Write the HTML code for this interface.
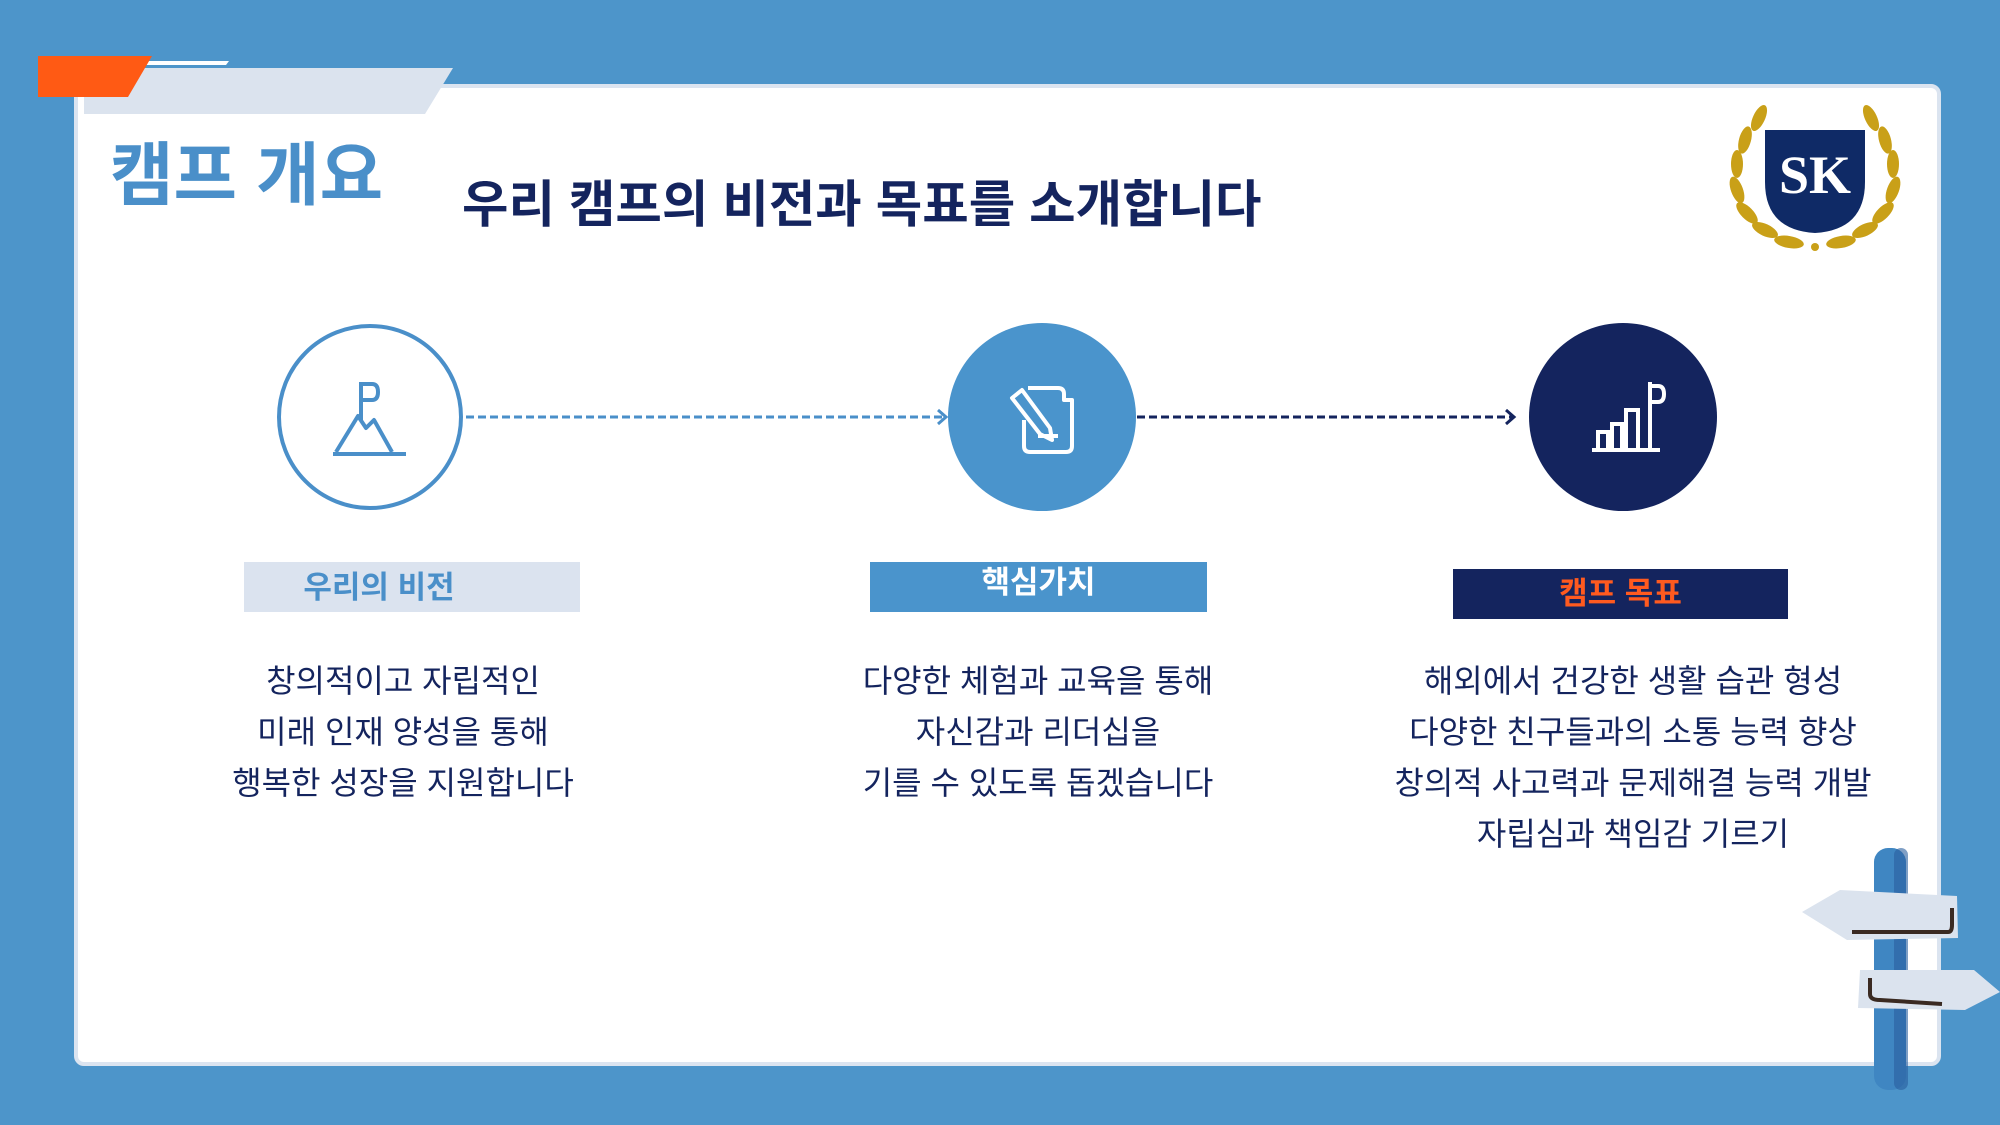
<!DOCTYPE html>
<html><head><meta charset="utf-8"><style>
*{margin:0;padding:0;box-sizing:border-box}
body{width:2000px;height:1125px;background:#4d95ca;position:relative;overflow:hidden;font-family:"Liberation Sans","Noto Sans CJK KR",sans-serif}
.abs{position:absolute}
.card{left:74px;top:84px;width:1867px;height:982px;background:#fff;border:4px solid #dbe4f0;border-radius:10px}
.t{position:absolute;white-space:nowrap;text-align:center}
.body{font-size:32px;color:#14245e;line-height:51px;transform:translateX(-50%)}
</style></head><body>
<div class="abs card"></div>
<svg class="abs" style="left:0;top:0" width="700" height="160">
<polygon points="84,114 84,68 453,68 425,114" fill="#dbe3ee"/>
<polygon points="128,61 229,61 226,65 126,65" fill="#fff"/>
<polygon points="38,56 152,56 128,97 38,97" fill="#ff5a14"/>
</svg>
<div class="t" style="left:110px;top:134px;font-size:69px;font-weight:bold;color:#4a8fc9;line-height:84px">캠프 개요</div>
<div class="t" style="left:462px;top:172px;font-size:50.5px;font-weight:bold;color:#14245e;line-height:66px">우리 캠프의 비전과 목표를 소개합니다</div>

<!-- logo -->
<svg class="abs" style="left:1715px;top:100px" width="200" height="155" viewBox="0 0 200 155">
<g fill="#c9a018">
<ellipse cx="44" cy="18" rx="6" ry="14" transform="rotate(25 44 18)"/>
<ellipse cx="30" cy="40" rx="6" ry="14" transform="rotate(15 30 40)"/>
<ellipse cx="22" cy="64" rx="6" ry="14" transform="rotate(0 22 64)"/>
<ellipse cx="22" cy="90" rx="6" ry="14" transform="rotate(-20 22 90)"/>
<ellipse cx="32" cy="113" rx="6" ry="14" transform="rotate(-45 32 113)"/>
<ellipse cx="50" cy="130" rx="6" ry="14" transform="rotate(-65 50 130)"/>
<ellipse cx="74" cy="142" rx="6" ry="15" transform="rotate(-80 74 142)"/>
<ellipse cx="156" cy="18" rx="6" ry="14" transform="rotate(-25 156 18)"/>
<ellipse cx="170" cy="40" rx="6" ry="14" transform="rotate(-15 170 40)"/>
<ellipse cx="178" cy="64" rx="6" ry="14" transform="rotate(0 178 64)"/>
<ellipse cx="178" cy="90" rx="6" ry="14" transform="rotate(20 178 90)"/>
<ellipse cx="168" cy="113" rx="6" ry="14" transform="rotate(45 168 113)"/>
<ellipse cx="150" cy="130" rx="6" ry="14" transform="rotate(65 150 130)"/>
<ellipse cx="126" cy="142" rx="6" ry="15" transform="rotate(80 126 142)"/>
<circle cx="100" cy="147" r="4"/>
</g>
<path d="M50 30 H150 V82 Q150 130 100 133 Q50 130 50 82 Z" fill="#0f2a66"/>
<text x="100" y="93" text-anchor="middle" font-family="Liberation Serif,serif" font-weight="bold" font-size="54" fill="#fff">SK</text>
</svg>

<!-- circles & arrows -->
<svg class="abs" style="left:0;top:0" width="2000" height="560">
<circle cx="370" cy="417" r="91" fill="#fff" stroke="#4a8fc9" stroke-width="4"/>
<circle cx="1042" cy="417" r="94" fill="#4a94cc"/>
<circle cx="1623" cy="417" r="94" fill="#14245e"/>
<line x1="466" y1="417" x2="944" y2="417" stroke="#4a8fc9" stroke-width="3" stroke-dasharray="8,4"/>
<polyline points="938,410 946,417 938,424" fill="none" stroke="#4a8fc9" stroke-width="3"/>
<line x1="1137" y1="417" x2="1512" y2="417" stroke="#14245e" stroke-width="3" stroke-dasharray="8,4"/>
<polyline points="1506,410 1514,417 1506,424" fill="none" stroke="#14245e" stroke-width="3"/>
<g fill="none" stroke="#4a8fc9" stroke-width="4" stroke-linejoin="round">
<line x1="361" y1="382" x2="361" y2="420"/>
<path d="M361 384 H372 Q378 384 378 392 Q378 400 372 400 H361"/>
<path d="M336 452 L358 416 L366 428 L374 420 L392 452"/>
<line x1="333" y1="454" x2="406" y2="454"/>
</g>
<g fill="none" stroke="#fff" stroke-width="4" stroke-linejoin="round">
<path d="M1028 388 H1058 Q1064 388 1064 394 V400 H1072 V446 Q1072 452 1066 452 H1030 Q1024 452 1024 446 V420"/>
<path d="M1012 398 L1022 390 L1050 428 L1052 440 L1040 434 Z"/>
<line x1="1038" y1="436" x2="1058" y2="436"/>
</g>
<g fill="none" stroke="#fff" stroke-width="4">
<line x1="1592" y1="450" x2="1660" y2="450"/>
<rect x="1598" y="432" width="10" height="18"/>
<rect x="1612" y="424" width="10" height="26"/>
<rect x="1626" y="410" width="12" height="40"/>
<line x1="1650" y1="382" x2="1650" y2="450"/>
<path d="M1650 386 H1658 Q1664 386 1664 394 Q1664 402 1658 402 H1650"/>
</g>
</svg>

<!-- labels -->
<div class="abs" style="left:244px;top:562px;width:336px;height:50px;background:#dbe3ef"></div>
<div class="t" style="left:244px;top:563px;width:270px;line-height:50px;font-size:31px;font-weight:bold;color:#4a8fc9">우리의 비전</div>
<div class="abs" style="left:870px;top:562px;width:337px;height:50px;background:#4a94cc"></div>
<div class="t" style="left:870px;top:562px;width:337px;line-height:42px;font-size:31px;font-weight:bold;color:#fff">핵심가치</div>
<div class="abs" style="left:1453px;top:569px;width:335px;height:50px;background:#14245e"></div>
<div class="t" style="left:1453px;top:569px;width:335px;line-height:50px;font-size:31px;font-weight:bold;color:#ff5a1f">캠프 목표</div>

<div class="t body" style="left:403px;top:656px">창의적이고 자립적인<br>미래 인재 양성을 통해<br>행복한 성장을 지원합니다</div>
<div class="t body" style="left:1038px;top:656px">다양한 체험과 교육을 통해<br>자신감과 리더십을<br>기를 수 있도록 돕겠습니다</div>
<div class="t body" style="left:1633px;top:656px">해외에서 건강한 생활 습관 형성<br>다양한 친구들과의 소통 능력 향상<br>창의적 사고력과 문제해결 능력 개발<br>자립심과 책임감 기르기</div>

<!-- signpost -->
<svg class="abs" style="left:1790px;top:840px" width="210" height="285" viewBox="0 0 210 285">
<rect x="84" y="8" width="32" height="242" rx="14" fill="#3f86c2"/>
<rect x="104" y="8" width="14" height="242" rx="7" fill="#2a5f9e" opacity="0.6"/>
<polygon points="12,72 50,50 167,56 168,98 57,100" fill="#dbe3ee"/>
<path d="M62 92 H158 Q162 92 162 85 V68" fill="none" stroke="#3a2a22" stroke-width="4"/>
<polygon points="70,130 184,130 210,152 175,170 68,168" fill="#dbe3ee"/>
<path d="M80 138 V154 Q80 160 90 160 L152 164" fill="none" stroke="#3a2a22" stroke-width="4"/>
</svg>
</body></html>
